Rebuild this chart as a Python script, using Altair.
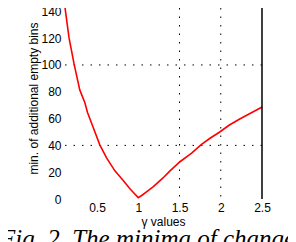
import altair as alt
import pandas as pd

gamma = [0.10, 0.109, 0.161, 0.222, 0.291, 0.353, 0.385, 0.453, 0.534, 0.616, 0.717, 0.818, 0.899, 0.95, 1.0,
         1.05, 1.10, 1.18, 1.30, 1.385, 1.506, 1.61, 1.647, 1.767, 1.87, 1.988, 2.10, 2.23, 2.36, 2.49, 2.50]
min_bins = [148.5, 144.3, 120.2, 100.8, 81.4, 71.8, 64.5, 53.5, 40.4, 30.7, 21.0, 13.8, 7.7, 4.3, 1.0,
            3.0, 5.3, 9.0, 15.7, 21.0, 27.8, 32.6, 34.3, 40.8, 45.3, 50.0, 55.0, 59.7, 64.0, 68.2, 68.5]

x_ticks = [0.5, 1, 1.5, 2, 2.5]
y_ticks = [0, 20, 40, 60, 80, 100, 120, 140]
grid_x = [1.5, 2.0]
grid_y = [40, 100]
border_x = [2.5]
caption = "Fig. 2. The minima of changes"
x_title = "γ values"
y_title = "min. of additional empty bins"

curve = pd.DataFrame({"gamma": gamma, "bins": min_bins})
vgrid = pd.DataFrame({"gamma": grid_x})
hgrid = pd.DataFrame({"bins": grid_y})
border = pd.DataFrame({"gamma": border_x})
cap = pd.DataFrame({"caption": [caption]})

xscale = alt.Scale(domain=[0.1, 2.5], nice=False, zero=False)
yscale = alt.Scale(domain=[0, 142.5], nice=False, zero=False)

x_axis = alt.Axis(values=x_ticks, format="~g", title=x_title, labelFlush=False,
                  labelPadding=3, titlePadding=3)
y_axis = alt.Axis(values=y_ticks, title=y_title, labelPadding=3, titleAngle=270,
                  titleX=-27, titleY=90, titleAlign="center", titleBaseline="alphabetic")

x_enc = alt.X("gamma:Q", scale=xscale, axis=x_axis)
y_enc = alt.Y("bins:Q", scale=yscale, axis=y_axis)

dash = [1.5, 7]
vg = alt.Chart(vgrid).mark_rule(color="black", strokeWidth=1, strokeDash=dash).encode(x=x_enc)
hg = alt.Chart(hgrid).mark_rule(color="black", strokeWidth=1, strokeDash=dash).encode(y=y_enc)
line = alt.Chart(curve).mark_line(color="#ff0000", strokeWidth=1.6).encode(x=x_enc, y=y_enc)
edge = alt.Chart(border).mark_rule(color="black", strokeWidth=1.5).encode(x=x_enc)
text = alt.Chart(cap).mark_text(align="left", baseline="alphabetic", font="Liberation Serif",
                                fontStyle="italic", fontSize=25, color="black").encode(
    x=alt.value(-64), y=alt.value(239), text="caption:N")

chart = alt.layer(vg, hg, line, edge, text).properties(
    width=198, height=191,
    autosize=alt.AutoSizeParams(type="none"),
    padding={"left": 56, "top": 0, "right": 26, "bottom": 44},
).configure_axis(
    domain=False, ticks=False, grid=False,
    labelFont="Liberation Sans", labelFontSize=12, labelColor="black",
    titleFont="Liberation Sans", titleFontSize=12, titleFontWeight="normal", titleColor="black",
).configure_view(strokeWidth=0)

chart.save("out.html", embed_options={"renderer": "svg", "actions": False})
